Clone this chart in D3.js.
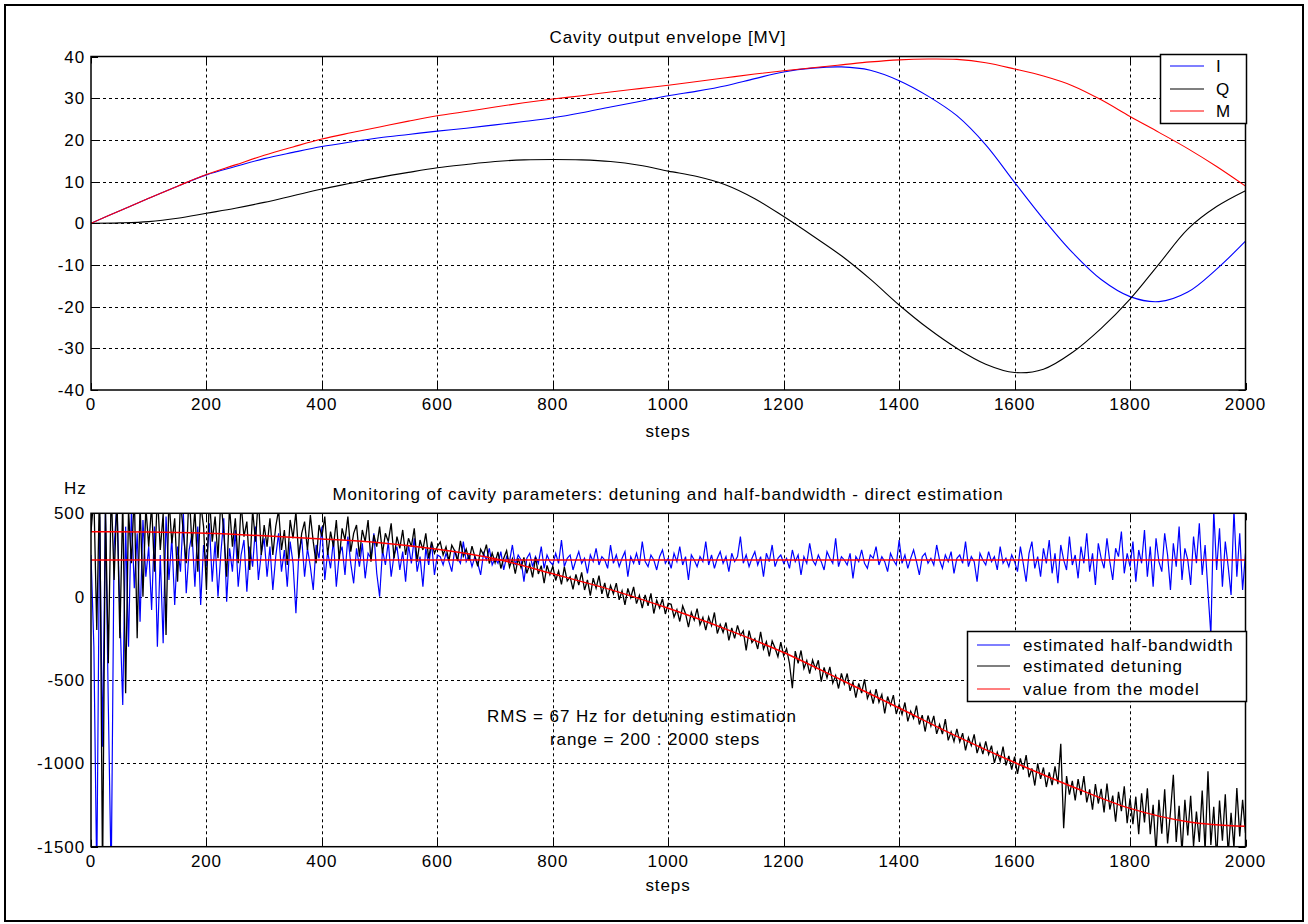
<!DOCTYPE html>
<html><head><meta charset="utf-8">
<script src="https://cdn.jsdelivr.net/npm/d3@7"></script>
<style>
html,body{margin:0;padding:0;background:#fff;}
svg text{font-family:"Liberation Sans",Arial,sans-serif;fill:#000;letter-spacing:0.9px;}
</style></head>
<body><svg id="c" width="1308" height="924"></svg>
<script>
// ---------- DATA ----------
const stepsTop = d3.range(0, 2001, 50);
const seriesI = [0,3.0,6.0,8.9,11.6,13.6,15.5,17.0,18.4,19.5,20.5,21.3,22.1,22.8,23.6,24.4,25.3,26.5,27.9,29.2,30.6,31.7,33.0,34.7,36.3,37.2,37.5,36.7,34.2,30.5,25.8,18.8,9.8,1.0,-7.0,-13.5,-17.6,-18.8,-16.5,-11.0,-4.3];
const seriesQ = [0,0.1,0.4,1.2,2.4,3.6,5.0,6.6,8.2,9.6,11.0,12.2,13.3,14.1,14.8,15.2,15.3,15.2,14.8,13.9,12.5,11.2,9.2,5.9,1.6,-3.0,-7.8,-13.4,-19.6,-25.2,-30.0,-33.8,-35.8,-35.0,-31.0,-25.2,-18.2,-9.8,-1.4,4.0,7.8];
const seriesM = [0,3.0,6.0,8.9,11.7,14.0,16.3,18.3,20.2,21.7,23.1,24.5,25.8,26.8,27.9,28.9,29.8,30.6,31.5,32.3,33.1,34.0,34.9,35.8,36.6,37.3,38.0,38.7,39.2,39.4,39.3,38.5,37.0,35.3,33.0,29.6,25.6,21.8,17.9,13.6,8.9];
const topLegend = ["I","Q","M"];

const modelSteps = d3.range(0, 2001, 100);
const modelDetuning = [390,388,380,365,346,324,285,228,137,42,-70,-195,-335,-500,-668,-838,-995,-1140,-1270,-1350,-1378];
const modelHalfBandwidth = [220,220];
const modelHbwSteps = [0,2000];

const estSteps = d3.range(0, 2001, 5);
const estHalfBandwidth = [250,-300,-1700,480,-900,520,-650,-1700,300,560,-100,-650,420,-300,520,50,380,-150,460,120,300,
-80,420,-300,250,-280,480,100,350,-50,300,150,500,20,280,380,60,420,-50,310,180,440,90,330,0,260,470,-30,290,150,400,60,250,340,30,300,180,420,100,260,350,
120,300,40,240,380,150,280,60,330,200,-100,260,350,120,290,180,40,310,230,420,100,270,170,340,60,250,300,130,360,200,80,290,180,320,110,260,230,380,140,0,280,190,330,120,250,300,160,270,90,310,200,350,150,240,60,290,190,320,130,250,
240,190,260,210,150,280,230,200,330,210,
250,180,240,200,130,260,220,290,190,230,
200,270,160,240,210,310,190,250,220,90,
230,260,180,240,200,300,170,250,210,190,
260,200,340,180,230,250,160,220,270,200,
230,140,250,210,290,190,240,220,170,310,
200,250,180,230,270,120,240,200,260,190,
330,210,180,250,220,160,240,280,200,230,
170,260,210,300,190,240,100,250,220,180,
240,210,330,190,250,170,230,270,200,240,
150,260,210,240,360,200,250,180,230,270,
190,240,120,260,210,310,180,230,250,200,
230,170,280,210,250,130,240,200,320,220,
190,250,210,160,270,230,200,350,180,240,
220,190,260,110,240,210,280,200,170,250,
230,300,190,240,210,150,260,220,190,340,
200,250,170,230,280,210,130,240,260,200,
230,190,310,220,170,250,210,270,140,230,
250,200,330,180,240,210,90,260,220,190,
270,210,240,160,300,200,230,180,250,210,
150,300,200,90,260,330,170,240,120,290,
200,340,140,260,80,310,220,160,360,190,
250,110,300,200,380,150,260,70,320,230,
170,350,210,100,290,240,390,140,260,180,
330,90,280,200,400,120,300,60,350,210,
150,380,250,40,320,180,420,100,290,220,
70,360,200,440,130,310,30,-230,520,160,
410,60,330,180,10,520,120,380,40,260];
const estDetuning = [390,600,-200,700,-1700,550,-400,650,100,600,-250,580,-580,520,200,620,-250,560,0,540,300,
550,150,620,280,500,-230,600,320,470,90,580,380,200,640,300,520,150,560,420,40,600,330,480,230,590,380,120,540,300,470,200,560,360,450,160,520,330,600,250,430,
300,470,250,420,520,280,400,190,460,350,510,230,380,450,280,490,330,200,430,360,480,250,390,300,460,220,410,340,480,270,380,430,240,400,330,460,210,370,300,420,260,380,330,440,230,360,290,400,250,350,300,410,210,340,280,380,230,330,260,300,
328,250,298,215,308,275,213,335,243,285,
217,303,240,182,284,251,312,199,261,203,
269,169,230,276,177,227,138,229,174,235,
140,195,116,236,136,186,81,187,132,182,
97,153,73,178,94,119,44,134,70,145,
40,100,6,111,51,126,17,82,-8,67,
17,81,-19,35,-50,49,-6,58,-42,8,
-68,11,-55,20,-101,-22,-68,-13,-104,-40,
-46,-122,-78,-149,-56,-102,-183,-94,-141,-72,
-168,-125,-201,-122,-174,-95,-221,-167,-214,-155,
-262,-188,-250,-172,-233,-205,-322,-204,-275,-252,
-314,-211,-314,-271,-358,-266,-308,-360,-273,-355,
-313,-401,-549,-327,-400,-323,-431,-384,-462,-380,
-433,-382,-510,-424,-487,-421,-519,-473,-551,-460,
-523,-461,-565,-513,-606,-520,-578,-496,-610,-568,
-641,-555,-633,-587,-700,-599,-652,-591,-704,-648,
-706,-635,-748,-687,-730,-654,-767,-711,-809,-713,
-776,-715,-823,-767,-825,-734,-862,-811,-869,-793,
-871,-819,-922,-845,-893,-826,-939,-882,-945,-868,
-946,-894,-997,-934,-987,-900,-1012,-955,-1037,-960,
-1063,-970,-1038,-950,-1083,-1030,-1133,-1000,-1093,-1025,
-1142,-1054,-1131,-1018,-1125,-882,-1389,-1076,-1188,-1105,
-1222,-1094,-1190,-1077,-1234,-1156,-1278,-1124,-1241,-1153,
-1294,-1121,-1277,-1193,-1350,-1171,-1287,-1138,-1359,-1210,
-1365,-1200,-1425,-1180,-1355,-1150,-1425,-1249,-1534,-1218,
-1422,-1156,-1480,-1294,-1068,-1471,-1254,-1537,-1219,-1432,
-1194,-1497,-1289,-1471,-1163,-1525,-1047,-1489,-1261,-1572,
-1223,-1464,-1185,-1546,-1297,-1507,-1148,-1438,-1218,-1418];
const bottomLegend = ["estimated half-bandwidth","estimated detuning","value from the model"];

const xTicks = d3.range(0, 2001, 200);
const yTicksTop = d3.range(-40, 41, 10);
const yTicksBottom = [-1500,-1000,-500,0,500];

// ---------- DRAW ----------
const svg = d3.select("#c");
const FS = 17;
svg.append("rect").attr("x",0).attr("y",0).attr("width",1308).attr("height",924).attr("fill","#fff");
svg.append("rect").attr("x",5).attr("y",5).attr("width",1298).attr("height",916)
  .attr("fill","none").attr("stroke","#000").attr("stroke-width",2);

function makeAxes(g, x, y, yTicks, id){
  const [x0,x1] = x.range(); const [y0,y1] = y.range();
  g.append("clipPath").attr("id",id).append("rect")
    .attr("x",x0).attr("y",y1).attr("width",x1-x0).attr("height",y0-y1);
  const grid = g.append("g").attr("stroke","#000").attr("stroke-width",1).attr("stroke-dasharray","3,3");
  xTicks.forEach(t=>{ if(t>0&&t<2000) grid.append("line").attr("x1",Math.round(x(t))+0.5).attr("x2",Math.round(x(t))+0.5).attr("y1",y1).attr("y2",y0);});
  yTicks.forEach((t,i)=>{ if(i>0&&i<yTicks.length-1) grid.append("line").attr("y1",Math.round(y(t))+0.5).attr("y2",Math.round(y(t))+0.5).attr("x1",x0).attr("x2",x1);});
  const tk = g.append("g").attr("stroke","#000").attr("stroke-width",1);
  xTicks.forEach(t=>{const xx=Math.round(x(t))+0.5;
    tk.append("line").attr("x1",xx).attr("x2",xx).attr("y1",y0).attr("y2",y0-7);
    tk.append("line").attr("x1",xx).attr("x2",xx).attr("y1",y1).attr("y2",y1+7);});
  yTicks.forEach(t=>{const yy=Math.round(y(t))+0.5;
    tk.append("line").attr("x1",x0).attr("x2",x0+7).attr("y1",yy).attr("y2",yy);
    tk.append("line").attr("x1",x1).attr("x2",x1-7).attr("y1",yy).attr("y2",yy);});
  xTicks.forEach(t=>g.append("text").attr("x",x(t)).attr("y",y0+20).attr("text-anchor","middle")
    .attr("font-size",FS).text(t));
  yTicks.forEach(t=>g.append("text").attr("x",x0-6).attr("y",y(t)+6).attr("text-anchor","end")
    .attr("font-size",FS).text(t));
}
function box(g,x,y){
  const [x0,x1]=x.range(); const [y0,y1]=y.range();
  g.append("rect").attr("x",x0).attr("y",y1).attr("width",x1-x0).attr("height",y0-y1)
   .attr("fill","none").attr("stroke","#000").attr("stroke-width",1.5);
}

// top axes
const xT = d3.scaleLinear().domain([0,2000]).range([91,1245.5]);
const yT = d3.scaleLinear().domain([-40,40]).range([390,56.5]);
const gT = svg.append("g");
makeAxes(gT,xT,yT,yTicksTop,"clipT");
const lineT = (vals)=>d3.line().x((d,i)=>xT(stepsTop[i])).y(d=>yT(d)).curve(d3.curveCatmullRom.alpha(0.5))(vals);
const cT = gT.append("g").attr("clip-path","url(#clipT)");
[[seriesI,"#0000ff"],[seriesQ,"#000000"],[seriesM,"#ff0000"]].forEach(([v,c])=>
  cT.append("path").attr("d",lineT(v)).attr("fill","none").attr("stroke",c).attr("stroke-width",1.1));
box(gT,xT,yT);
gT.append("text").attr("x",668).attr("y",43).attr("text-anchor","middle").attr("font-size",FS).text("Cavity output envelope [MV]");
gT.append("text").attr("x",668).attr("y",437).attr("text-anchor","middle").attr("font-size",FS).text("steps");
const lgT = gT.append("g");
lgT.append("rect").attr("x",1160.5).attr("y",54.5).attr("width",86).attr("height",69).attr("fill","#fff").attr("stroke","#000").attr("stroke-width",1.5);
[["#0000ff",66],["#000000",89],["#ff0000",111]].forEach(([c,yy],i)=>{
  lgT.append("line").attr("x1",1170).attr("x2",1204).attr("y1",yy).attr("y2",yy).attr("stroke",c).attr("stroke-width",1.2);
  lgT.append("text").attr("x",1216).attr("y",yy+6).attr("font-size",FS).text(topLegend[i]);
});

// bottom axes
const xB = d3.scaleLinear().domain([0,2000]).range([91,1245.5]);
const yB = d3.scaleLinear().domain([-1500,500]).range([846.7,513.3]);
const gB = svg.append("g");
makeAxes(gB,xB,yB,yTicksBottom,"clipB");
const cB = gB.append("g").attr("clip-path","url(#clipB)");
const lineEst = d3.line().x((d,i)=>xB(estSteps[i])).y(d=>yB(d));
cB.append("path").attr("d",lineEst(estHalfBandwidth)).attr("fill","none").attr("stroke","#0000ff").attr("stroke-width",1.2);
cB.append("path").attr("d",lineEst(estDetuning)).attr("fill","none").attr("stroke","#000").attr("stroke-width",1.3);
cB.append("path").attr("d",d3.line().x((d,i)=>xB(modelHbwSteps[i])).y(d=>yB(d))(modelHalfBandwidth)).attr("fill","none").attr("stroke","#ff0000").attr("stroke-width",1.5);
cB.append("path").attr("d",d3.line().x((d,i)=>xB(modelSteps[i])).y(d=>yB(d)).curve(d3.curveMonotoneX)(modelDetuning)).attr("fill","none").attr("stroke","#ff0000").attr("stroke-width",1.5);
box(gB,xB,yB);
gB.append("text").attr("x",668).attr("y",500).attr("text-anchor","middle").attr("font-size",FS).text("Monitoring of cavity parameters: detuning and half-bandwidth - direct estimation");
gB.append("text").attr("x",668).attr("y",891).attr("text-anchor","middle").attr("font-size",FS).text("steps");
gB.append("text").attr("x",64).attr("y",494).attr("font-size",FS).text("Hz");
gB.append("text").attr("x",487).attr("y",722).attr("font-size",FS).text("RMS = 67 Hz for detuning estimation");
gB.append("text").attr("x",550).attr("y",745).attr("font-size",FS).text("range = 200 : 2000 steps");
const lgB = gB.append("g");
lgB.append("rect").attr("x",967.5).attr("y",631.5).attr("width",279).attr("height",70).attr("fill","#fff").attr("stroke","#000").attr("stroke-width",1.5);
[["#0000ff",645],["#000000",666],["#ff0000",689]].forEach(([c,yy],i)=>{
  lgB.append("line").attr("x1",977).attr("x2",1010).attr("y1",yy).attr("y2",yy).attr("stroke",c).attr("stroke-width",1.2);
  lgB.append("text").attr("x",1023).attr("y",yy+6).attr("font-size",FS).text(bottomLegend[i]);
});
</script></body></html>
